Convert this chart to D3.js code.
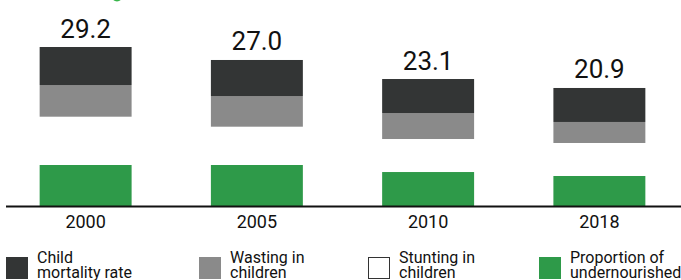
<!DOCTYPE html>
<html>
<head>
<meta charset="utf-8">
<script src="https://cdn.jsdelivr.net/npm/d3@7"></script>
<style>
  html, body { margin: 0; padding: 0; background: #fff; }
  svg { display: block; font-family: Roboto, "Noto Sans", sans-serif; }
</style>
</head>
<body>
<svg id="chart" width="681" height="280"></svg>
<script>
const years = ["2000", "2005", "2010", "2018"];
const totals = [29.2, 27.0, 23.1, 20.9];
const undernourished = [7.64, 7.64, 6.36, 5.64];
const stunting = [8.78, 6.96, 6.0, 6.0];
const wasting = [5.76, 5.58, 4.73, 3.82];
const childMortality = [6.91, 6.55, 6.18, 6.18];

const seriesKeys = ["undernourished", "stunting", "wasting", "mortality"];
const seriesColors = { undernourished: "#2e9a49", stunting: "#ffffff", wasting: "#8a8a8a", mortality: "#333535" };
const legendItems = [
  { key: "mortality", lines: ["Child", "mortality rate"] },
  { key: "wasting", lines: ["Wasting in", "children"] },
  { key: "stunting", lines: ["Stunting in", "children"] },
  { key: "undernourished", lines: ["Proportion of", "undernourished"] }
];

const rows = years.map((yr, i) => ({
  year: yr,
  undernourished: undernourished[i],
  stunting: stunting[i],
  wasting: wasting[i],
  mortality: childMortality[i],
  total: totals[i]
}));

const svg = d3.select("#chart");
const baseY = 207;

const x = d3.scaleBand().domain(years).range([0, 685]).paddingInner(0.463).paddingOuter(0.2315);
const y = d3.scaleLinear().domain([0, 30]).range([baseY, 42]);

// partial decorative dot at top (cut off)
svg.append("circle").attr("cx", 117).attr("cy", -4).attr("r", 5.5).attr("fill", "#38b54a");

const stackGen = d3.stack().keys(seriesKeys);
const layers = stackGen(rows);

svg.append("g").selectAll("g").data(layers).join("g")
  .attr("fill", d => seriesColors[d.key])
  .selectAll("rect").data(d => d).join("rect")
  .attr("x", d => x(d.data.year))
  .attr("width", x.bandwidth())
  .attr("y", d => y(d[1]))
  .attr("height", d => y(d[0]) - y(d[1]));

// total labels
const topLayer = layers[layers.length - 1];
svg.append("g").selectAll("text").data(rows).join("text")
  .attr("x", d => x(d.year) + x.bandwidth() / 2)
  .attr("y", (d, i) => y(topLayer[i][1]) - 9.5)
  .attr("text-anchor", "middle")
  .attr("font-size", 26)
  .attr("fill", "#111")
  .text(d => d.total.toFixed(1));

// axis
const axis = svg.append("g").attr("transform", `translate(0,${baseY})`)
  .call(d3.axisBottom(x).tickSize(0).tickPadding(0));
axis.select(".domain").remove();
axis.selectAll("text")
  .attr("y", 21).attr("dy", 0)
  .attr("font-size", 18)
  .attr("font-family", "Roboto, sans-serif")
  .attr("fill", "#111");
svg.append("line")
  .attr("x1", 6).attr("x2", 681)
  .attr("y1", 206.5).attr("y2", 206.5)
  .attr("stroke", "#111").attr("stroke-width", 2);

// legend
const legendX = [6, 199, 368, 539];
const lg = svg.append("g").selectAll("g").data(legendItems).join("g")
  .attr("transform", (d, i) => `translate(${legendX[i]},0)`);
lg.append("rect")
  .attr("x", d => d.key === "stunting" ? 0.5 : 0)
  .attr("y", d => d.key === "stunting" ? 257.5 : 257)
  .attr("width", d => d.key === "stunting" ? 21 : 22)
  .attr("height", d => d.key === "stunting" ? 21 : 22)
  .attr("fill", d => seriesColors[d.key])
  .attr("stroke", d => d.key === "stunting" ? "#333" : "none")
  .attr("stroke-width", 1);
lg.append("text")
  .attr("font-size", 16)
  .attr("fill", "#111")
  .selectAll("tspan").data(d => d.lines).join("tspan")
  .attr("x", 31)
  .attr("y", (d, i) => 263 + i * 15)
  .text(d => d);
</script>
</body>
</html>
